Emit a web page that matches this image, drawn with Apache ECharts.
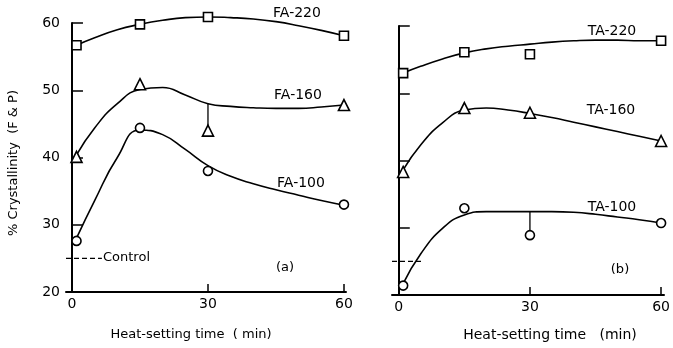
<!DOCTYPE html>
<html><head><meta charset="utf-8">
<script src="https://cdn.jsdelivr.net/npm/echarts@6/dist/echarts.min.js"></script>
<style>html,body{margin:0;padding:0;background:#fff}#chart{width:673px;height:348px}</style>
</head><body><div id="chart"></div>
<script>
// heat-setting times (min) at which samples were measured
const times = [1, 15, 30, 60];
const xTicks = [0, 30, 60];
const yTicks = [20, 30, 40, 50, 60];
const controlLevel = 25;

// panel (a): FA samples, % crystallinity
const fa220 = [56.7, 59.8, 60.9, 58.1];
const fa160 = [40.1, 50.9, 44.0, 47.8];
const fa100 = [27.6, 44.4, 38.0, 33.0];
// panel (b): TA samples, % crystallinity
const ta220 = [53.0, 56.1, 55.8, 57.8];
const ta160 = [38.3, 47.8, 47.1, 42.9];
const ta100 = [21.4, 32.9, 28.9, 30.7];

// hand-fitted trend curves, sampled at curveTimes
const curveTimes = [1, 5, 10, 15, 20, 25, 30, 35, 40, 45, 50, 55, 60];
const fa220Curve = [56.7, 57.8, 59.0, 59.8, 60.4, 60.8, 60.9, 60.8, 60.6, 60.2, 59.6, 58.9, 58.1];
const fa160Curve = [40.4, 44.4, 48.0, 50.1, 50.4, 49.3, 48.0, 47.6, 47.4, 47.3, 47.3, 47.5, 47.8];
const fa100Curve = [28.0, 33.6, 40.0, 44.1, 43.4, 41.2, 38.8, 37.2, 36.1, 35.2, 34.4, 33.6, 32.9];
const ta220Curve = [53.0, 54.0, 55.1, 56.0, 56.6, 57.0, 57.3, 57.6, 57.8, 57.9, 57.9, 57.8, 57.8];
const ta160Curve = [38.6, 42.3, 45.6, 47.5, 47.8, 47.5, 47.0, 46.4, 45.7, 45.0, 44.3, 43.6, 42.9];
const ta100Curve = [21.7, 26.1, 29.9, 31.9, 32.4, 32.4, 32.4, 32.4, 32.3, 32.0, 31.6, 31.2, 30.7];

// curve value at t = 30 where a point sits off its curve
const fa160At30 = fa160Curve[curveTimes.indexOf(30)];
const ta100At30 = ta100Curve[curveTimes.indexOf(30)];

const FONT = 'DejaVu Sans';
const chart = echarts.init(document.getElementById('chart'));

const xRange = [[-1.32, 60.45], [-1.55, 60.66]];
const controlEnd = [6.6, 5.3];

function xAxis(i) {
  return {
    type: 'value', gridIndex: i, min: xRange[i][0], max: xRange[i][1],
    axisLine: { show: true, lineStyle: { color: '#000', width: 2 } },
    axisTick: { show: true, inside: true, length: 8, customValues: xTicks, lineStyle: { color: '#000', width: 1.5 } },
    axisLabel: { customValues: xTicks, color: '#000', fontSize: 14, fontFamily: FONT, margin: 5 },
    splitLine: { show: false }
  };
}
function yAxis(i) {
  return {
    type: 'value', gridIndex: i, min: yTicks[0], max: yTicks[yTicks.length - 1], interval: 10,
    axisLine: { show: true, lineStyle: { color: '#000', width: 2 } },
    axisTick: { show: true, inside: true, length: 11, lineStyle: { color: '#000', width: 1.5 } },
    axisLabel: { show: i === 0, color: '#000', fontSize: 14, fontFamily: FONT, margin: 6 },
    splitLine: { show: false }
  };
}
function curve(vals, i) {
  return { type: 'line', xAxisIndex: i, yAxisIndex: i, data: curveTimes.map((t, k) => [t, vals[k]]),
    smooth: 0.5, smoothConstraint: false, symbol: 'none', clip: false,
    lineStyle: { color: '#000', width: 1.6 }, z: 2, silent: true };
}
function marks(vals, symbol, size, i) {
  return { type: 'scatter', xAxisIndex: i, yAxisIndex: i, clip: false,
    data: times.map((t, k) => [t, vals[k]]), symbol, symbolSize: size,
    itemStyle: { color: '#fff', borderColor: '#000', borderWidth: 1.6, opacity: 1 }, z: 3, silent: true };
}
function segment(data, i, dashed) {
  return { type: 'line', xAxisIndex: i, yAxisIndex: i, data, symbol: 'none',
    lineStyle: { color: '#000', width: 1.3, type: dashed ? [5, 3] : 'solid' }, z: 2, silent: true };
}
function text(str, x, y, size, extra) {
  return Object.assign({ type: 'text', x, y, style: { text: str, fill: '#000', fontSize: size, fontFamily: FONT,
    align: 'center', verticalAlign: 'middle' } }, extra || {});
}

chart.setOption({
  animation: false,
  backgroundColor: '#fff',
  grid: [
    { left: 66, top: 23, width: 280, height: 269 },
    { left: 392, top: 26, width: 281, height: 269 }
  ],
  xAxis: [xAxis(0), xAxis(1)],
  yAxis: [yAxis(0), yAxis(1)],
  series: [
    curve(fa220Curve, 0), curve(fa160Curve, 0), curve(fa100Curve, 0),
    segment([[30, fa160At30], [30, fa160[2]]], 0),
    segment([[xRange[0][0], controlLevel], [controlEnd[0], controlLevel]], 0, true),
    marks(fa220, 'rect', 9, 0), marks(fa160, 'triangle', 11, 0), marks(fa100, 'circle', 9, 0),
    curve(ta220Curve, 1), curve(ta160Curve, 1), curve(ta100Curve, 1),
    segment([[30, ta100At30], [30, ta100[2]]], 1),
    segment([[xRange[1][0], controlLevel], [controlEnd[1], controlLevel]], 1, true),
    marks(ta220, 'rect', 9, 1), marks(ta160, 'triangle', 11, 1), marks(ta100, 'circle', 9, 1)
  ],
  graphic: [
    text('% Crystallinity  (F & P)', 14, 163, 13, { rotation: Math.PI / 2 }),
    text('Heat-setting time  ( min)', 191, 335, 13),
    text('Heat-setting time   (min)', 550, 335, 14),
    text('FA-220', 297, 13, 14), text('FA-160', 298, 95, 14), text('FA-100', 301, 183, 14),
    text('TA-220', 612, 31, 14), text('TA-160', 611, 110, 14), text('TA-100', 612, 207, 14),
    { type: 'text', x: 103, y: 258, style: { text: 'Control', fill: '#000', fontSize: 13, fontFamily: FONT, align: 'left', verticalAlign: 'middle' } },
    text('(a)', 285, 268, 13), text('(b)', 620, 270, 13)
  ]
});
</script></body></html>
